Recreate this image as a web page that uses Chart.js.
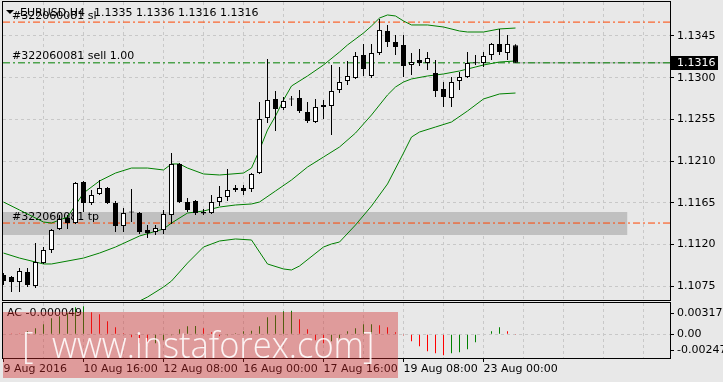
<!DOCTYPE html>
<html>
<head>
<meta charset="utf-8">
<title>EURUSD H4</title>
<script src="https://cdn.jsdelivr.net/npm/chart.js@4.4.1/dist/chart.umd.min.js"></script>
<style>
  html, body { margin: 0; padding: 0; background: #e8e8e8; }
  #wrap { position: relative; width: 723px; height: 382px; overflow: hidden; }
  canvas { position: absolute; left: 0; }
</style>
</head>
<body>
<div id="wrap">
  <canvas id="priceChart" width="723" height="301" style="top:0"></canvas>
  <canvas id="acChart" width="723" height="81" style="top:301px"></canvas>
</div>
<script>
// EURUSD H4 candles, bar 0 = 9 Aug 2016 00:00
const open = [1.10869, 1.10847, 1.10793, 1.10901, 1.10750, 1.10998, 1.11139, 1.11366, 1.11484, 1.11430,
  1.11873, 1.11646, 1.11744, 1.11808, 1.11646, 1.11398, 1.11549, 1.11538, 1.11355, 1.11333,
  1.11355, 1.11517, 1.12068, 1.11657, 1.11668, 1.11549, 1.11538, 1.11657, 1.11711, 1.11808,
  1.11808, 1.11798, 1.11970, 1.12564, 1.12770, 1.12672, 1.12770, 1.12780, 1.12629, 1.12521,
  1.12683, 1.12694, 1.12867, 1.12964, 1.12996, 1.13245, 1.13018, 1.13266, 1.13504, 1.13385,
  1.13353, 1.13137, 1.13191, 1.13158, 1.13050, 1.12878, 1.12780, 1.12964, 1.13007, 1.13158,
  1.13158, 1.13245, 1.13364, 1.13266, 1.13350];
const high = [1.10890, 1.10858, 1.10944, 1.10944, 1.11214, 1.11171, 1.11366, 1.11517, 1.11517, 1.11873,
  1.11884, 1.11787, 1.11895, 1.11819, 1.11668, 1.11592, 1.11798, 1.11549, 1.11409, 1.11409,
  1.11571, 1.12186, 1.12078, 1.11700, 1.11679, 1.11582, 1.11733, 1.11830, 1.12014, 1.11841,
  1.11841, 1.11970, 1.12737, 1.13202, 1.12856, 1.12791, 1.12802, 1.12867, 1.12737, 1.12770,
  1.12759, 1.13137, 1.13115, 1.13180, 1.13277, 1.13364, 1.13364, 1.13634, 1.13569, 1.13461,
  1.13461, 1.13266, 1.13310, 1.13277, 1.13191, 1.12953, 1.13007, 1.13061, 1.13277, 1.13245,
  1.13277, 1.13374, 1.13526, 1.13461, 1.13360];
const low = [1.10761, 1.10685, 1.10685, 1.10739, 1.10728, 1.10988, 1.11106, 1.11355, 1.11366, 1.11420,
  1.11549, 1.11625, 1.11733, 1.11636, 1.11333, 1.11333, 1.11441, 1.11312, 1.11268, 1.11301,
  1.11312, 1.11420, 1.11646, 1.11549, 1.11517, 1.11517, 1.11528, 1.11614, 1.11668, 1.11765,
  1.11733, 1.11765, 1.11960, 1.12510, 1.12424, 1.12651, 1.12694, 1.12618, 1.12510, 1.12510,
  1.12554, 1.12381, 1.12834, 1.12921, 1.12986, 1.13018, 1.12996, 1.13245, 1.13331, 1.13245,
  1.13007, 1.13029, 1.13126, 1.13083, 1.12791, 1.12683, 1.12683, 1.12867, 1.12996, 1.13137,
  1.13115, 1.13191, 1.13245, 1.13191, 1.13160];
const close = [1.10804, 1.10793, 1.10912, 1.10761, 1.11009, 1.11139, 1.11355, 1.11474, 1.11430, 1.11862,
  1.11646, 1.11733, 1.11808, 1.11646, 1.11398, 1.11538, 1.11544, 1.11333, 1.11322, 1.11376,
  1.11528, 1.12068, 1.11657, 1.11571, 1.11538, 1.11533, 1.11657, 1.11711, 1.11787, 1.11787,
  1.11776, 1.11960, 1.12554, 1.12759, 1.12662, 1.12748, 1.12764, 1.12640, 1.12532, 1.12683,
  1.12705, 1.12856, 1.12953, 1.13018, 1.13234, 1.13094, 1.13266, 1.13515, 1.13385, 1.13331,
  1.13126, 1.13169, 1.13158, 1.13212, 1.12856, 1.12791, 1.12953, 1.13007, 1.13158, 1.13155,
  1.13234, 1.13364, 1.13277, 1.13364, 1.13160];

// Bollinger bands, read at the bars where they could be made out
const upperBars = [0, 2, 5, 6, 8, 9, 10, 12, 14, 16, 18, 20, 21, 22, 23, 25, 27, 30, 31, 32,
  33, 34, 35, 36, 38, 40, 42, 43, 45, 46, 47, 48, 49, 50, 51, 53, 55, 57, 58, 60, 62, 64];
const upperBand = [1.11657, 1.11571, 1.11441, 1.11430, 1.11495, 1.11625, 1.11754, 1.11884, 1.11970, 1.12024,
  1.12024, 1.12003, 1.12068, 1.12068, 1.12024, 1.11960, 1.11949, 1.11970, 1.12024, 1.12219,
  1.12435, 1.12586, 1.12759, 1.12910, 1.13018, 1.13137, 1.13277, 1.13353, 1.13482, 1.13558,
  1.13644, 1.13677, 1.13666, 1.13612, 1.13569, 1.13569, 1.13547, 1.13504, 1.13493, 1.13493,
  1.13526, 1.13536];
const middleBars = [0, 2, 5, 6, 10, 12, 14, 17, 20, 21, 23, 25, 27, 29, 31, 32, 34, 36, 38, 40,
  42, 44, 45, 46, 47, 48, 49, 50, 51, 53, 55, 57, 59, 60, 62, 64];
const middleBand = [1.11106, 1.11052, 1.10988, 1.10988, 1.11052, 1.11106, 1.11171, 1.11290, 1.11366, 1.11430,
  1.11538, 1.11560, 1.11603, 1.11625, 1.11636, 1.11657, 1.11776, 1.11895, 1.12035, 1.12143,
  1.12251, 1.12402, 1.12500, 1.12597, 1.12705, 1.12813, 1.12899, 1.12953, 1.12986, 1.13018,
  1.13040, 1.13072, 1.13115, 1.13137, 1.13169, 1.13180];
const lowerBars = [17, 18, 20, 21, 23, 25, 27, 29, 31, 32, 33, 35, 36, 37, 40, 41, 42, 44, 46, 48,
  50, 51, 52, 54, 56, 58, 60, 62, 64];
const lowerBand = [1.10588, 1.10631, 1.10739, 1.10804, 1.10998, 1.11171, 1.11236, 1.11258, 1.11247, 1.11117,
  1.10988, 1.10934, 1.10923, 1.10966, 1.11171, 1.11204, 1.11225, 1.11409, 1.11614, 1.11852,
  1.12186, 1.12359, 1.12413, 1.12467, 1.12521, 1.12640, 1.12770, 1.12824, 1.12834];

// open order levels
const orderId = '#322060081';
const orderLots = '1.00';
const slPrice = 1.1360;
const sellPrice = 1.1316;
const tpPrice = 1.1143;
const tpZone = [1.11301, 1.11549];
const tpZoneEnd = 78;

// Accelerator oscillator
const acValues = [0.00008, 0.00005, 0.00003, 0.00045, 0.00091, 0.00151, 0.00242, 0.00272, 0.00318, 0.00409,
  0.00424, 0.00333, 0.00303, 0.00197, 0.00106, 0.00015, -0.00045, -0.00136, -0.00151, -0.00136,
  -0.00091, -0.00015, 0.00076, 0.00121, 0.00126, 0.00091, 0.00030, -0.00030, -0.00015, 0.00015,
  0.00045, 0.00053, 0.00121, 0.00257, 0.00287, 0.00348, 0.00356, 0.00227, 0.00076, -0.00091,
  -0.00136, -0.00106, -0.00061, 0.00045, 0.00091, 0.00151, 0.00154, 0.00136, 0.00106, 0.00030,
  -0.00015, -0.00106, -0.00182, -0.00257, -0.00287, -0.00318, -0.00287, -0.00272, -0.00227, -0.00121,
  0.00008, 0.00045, 0.00106, 0.00045, -0.000049];

// axes
const priceTicks = [1.1075, 1.1120, 1.1165, 1.1210, 1.1255, 1.1300, 1.1345];
const acTicks = [0.003177, 0, -0.00247];
const acTickLabels = ['0.003177', '0.00', '-0.00247'];
const gridBars = [0, 5, 10, 15, 20, 25, 30, 35, 40, 45, 50, 55, 60, 65, 70, 75, 80];
const labelBars = [0, 10, 20, 30, 40, 50, 60];
const timeLabels = ['9 Aug 2016', '10 Aug 16:00', '12 Aug 08:00', '16 Aug 00:00', '17 Aug 16:00', '19 Aug 08:00', '23 Aug 00:00'];

const xMin = -0.0625, xMax = 83.3125;
const priceMin = 1.10599, priceMax = 1.13817;
const acMin = -0.00359, acMax = 0.00474;

const FONT = "11px 'DejaVu Sans'";
const gridColor = '#c8c8c8';
const bars = open.map((_, i) => i);
const last = open.length - 1;

Chart.defaults.font.family = "'DejaVu Sans', sans-serif";
Chart.defaults.font.size = 11;
Chart.defaults.color = '#000';

function levelLine(price, color, from, dash) {
    return {
        type: 'line',
        data: [{ x: from, y: price }, { x: xMax, y: price }],
        borderColor: color, borderWidth: 1, borderDash: dash,
        pointRadius: 0, order: 5
    };
}

function bandLine(xs, values) {
    return {
        type: 'line',
        data: xs.map((b, k) => ({ x: b, y: values[k] })),
        borderColor: '#008000', borderWidth: 1,
        pointRadius: 0, tension: 0, order: 3
    };
}

const gridLine = (c) => (c.tick && c.tick.value === 0 ? 'transparent' : gridColor);

// right-hand axes: fixed width, no extra room for the end labels
function fitRightAxis(s) {
    s.width = 53;
    s.paddingTop = 0;
    s.paddingBottom = 0;
}

// text, frame and last price box on the price panel
const priceDecor = {
    id: 'priceDecor',
    afterDatasetDraw(chart, args) {
        if (args.index !== 1) return; // right after the tp zone, under the candles
        const { ctx, scales: { y } } = chart;
        ctx.save();
        ctx.font = FONT;
        ctx.fillStyle = '#000';
        ctx.textBaseline = 'middle';
        ctx.fillText(orderId + ' sl', 12, y.getPixelForValue(slPrice) - 6);
        ctx.fillText(orderId + ' sell ' + orderLots, 12, y.getPixelForValue(sellPrice) - 7);
        ctx.fillText(orderId + ' tp', 12, y.getPixelForValue(tpPrice) - 6);
        ctx.restore();
    },
    afterDraw(chart) {
        const { ctx, chartArea: a, scales: { y } } = chart;
        ctx.save();
        ctx.font = FONT;
        ctx.fillStyle = '#000';
        ctx.textBaseline = 'middle';
        // title
        ctx.beginPath();
        ctx.moveTo(6, 10); ctx.lineTo(14, 10); ctx.lineTo(10, 14); ctx.closePath();
        ctx.fill();
        ctx.fillText('EURUSD,H4', 20, 13);
        const ohlc = [open[last], high[last], low[last], close[last]].map(v => v.toFixed(4)).join(' ');
        ctx.fillText(ohlc, 94, 13);
        // frame
        ctx.strokeStyle = '#000';
        ctx.lineWidth = 1;
        ctx.strokeRect(a.left - 0.5, a.top - 0.5, a.right - a.left + 1, a.bottom - a.top + 1);
        // last price box
        const py = Math.round(y.getPixelForValue(close[last]));
        ctx.fillRect(a.right + 1, py - 7, 47, 14);
        ctx.fillStyle = '#fff';
        ctx.fillText(close[last].toFixed(4), a.right + 7, py);
        ctx.restore();
    }
};

new Chart(document.getElementById('priceChart'), {
    type: 'bar',
    data: {
        datasets: [
            {
                type: 'line', data: [{ x: xMin, y: tpZone[1] }, { x: tpZoneEnd, y: tpZone[1] }],
                borderColor: 'transparent', pointRadius: 0, order: 11
            },
            {
                type: 'line', data: [{ x: xMin, y: tpZone[0] }, { x: tpZoneEnd, y: tpZone[0] }],
                borderColor: 'transparent', pointRadius: 0, fill: '-1', backgroundColor: '#c0c0c0', order: 10
            },
            levelLine(tpPrice, '#ff4500', xMin, [7, 3, 2, 3]),
            levelLine(slPrice, '#ff4500', xMin, [7, 3, 2, 3]),
            Object.assign(levelLine(close[last], '#a8a8a8', last, []), { order: 6 }),
            levelLine(sellPrice, '#008000', xMin, [7, 3, 2, 3]),
            bandLine(upperBars, upperBand),
            bandLine(middleBars, middleBand),
            bandLine(lowerBars, lowerBand),
            {
                // wicks
                data: bars.map(i => ({ x: i, y: [low[i], high[i]] })),
                backgroundColor: '#000',
                barThickness: 1, maxBarThickness: 1, inflateAmount: 0,
                grouped: false, order: 2
            },
            {
                // bodies
                data: bars.map(i => ({ x: i, y: [open[i], close[i]] })),
                backgroundColor: bars.map(i => (close[i] > open[i] ? '#ffffff' : '#000000')),
                borderColor: '#000', borderWidth: 1, borderSkipped: false,
                barThickness: 5, maxBarThickness: 5, inflateAmount: 0, minBarLength: 1,
                grouped: false, order: 1
            }
        ]
    },
    options: {
        responsive: false,
        animation: false,
        events: [],
        layout: { padding: { left: 3, top: 2, right: 0, bottom: 1 } },
        plugins: { legend: { display: false }, tooltip: { enabled: false } },
        scales: {
            x: {
                type: 'linear', min: xMin, max: xMax, offset: false,
                afterBuildTicks: (s) => { s.ticks = gridBars.map(v => ({ value: v })); },
                afterFit: (s) => { s.height = 0; s.paddingLeft = 0; s.paddingRight = 0; },
                ticks: { display: false },
                grid: { color: gridLine, drawTicks: false, offset: false },
                border: { display: false, dash: [3, 3] }
            },
            y: {
                position: 'right', min: priceMin, max: priceMax,
                afterBuildTicks: (s) => { s.ticks = priceTicks.map(v => ({ value: v })); },
                afterFit: fitRightAxis,
                ticks: { callback: (v) => v.toFixed(4), padding: 3, color: '#000' },
                grid: { color: gridColor, tickColor: '#000', tickLength: 4 },
                border: { display: false, dash: [3, 3] }
            }
        }
    },
    plugins: [priceDecor]
});

// label, frame and watermark on the oscillator panel
const acDecor = {
    id: 'acDecor',
    afterDraw(chart) {
        const { ctx, chartArea: a } = chart;
        ctx.save();
        ctx.font = FONT;
        ctx.fillStyle = '#000';
        ctx.textBaseline = 'middle';
        ctx.fillText('AC ' + acValues[last].toFixed(6), 7, 12);
        ctx.strokeStyle = '#000';
        ctx.lineWidth = 1;
        ctx.strokeRect(a.left - 0.5, a.top - 0.5, a.right - a.left + 1, a.bottom - a.top + 1);

        // watermark
        ctx.fillStyle = 'rgba(210, 40, 40, 0.4)';
        ctx.fillRect(3, 11, 395, 66);
        ctx.fillStyle = 'rgba(255, 255, 255, 0.88)';
        ctx.textBaseline = 'alphabetic';
        ctx.font = "300 36px 'Open Sans'";
        const text = 'www.instaforex.com';
        const w = ctx.measureText(text).width;
        ctx.save();
        ctx.translate(52, 57);
        ctx.scale(312 / w, 1);
        ctx.fillText(text, 0, 0);
        ctx.restore();
        ctx.font = "300 36px 'Open Sans'";
        ctx.fillText('[', 22, 57);
        ctx.fillText(']', 363, 57);
        ctx.restore();
    }
};

new Chart(document.getElementById('acChart'), {
    type: 'bar',
    data: {
        datasets: [{
            data: bars.map(i => ({ x: i, y: acValues[i] })),
            backgroundColor: acValues.map((v, i) => (i > 0 && v > acValues[i - 1] ? '#008000' : '#ff0000')),
            barThickness: 1, maxBarThickness: 1, inflateAmount: 0, grouped: false
        }]
    },
    options: {
        responsive: false,
        animation: false,
        events: [],
        layout: { padding: { left: 3, top: 2, right: 0, bottom: 0 } },
        plugins: { legend: { display: false }, tooltip: { enabled: false } },
        scales: {
            x: {
                type: 'linear', min: xMin, max: xMax, offset: false,
                afterBuildTicks: (s) => { s.ticks = gridBars.map(v => ({ value: v })); },
                afterFit: (s) => { s.height = 24; s.paddingLeft = 0; s.paddingRight = 0; },
                ticks: {
                    autoSkip: false, maxRotation: 0, align: 'start', padding: 1, color: '#000',
                    callback: (v) => { const k = labelBars.indexOf(v); return k < 0 ? '' : timeLabels[k]; }
                },
                grid: {
                    color: gridLine, offset: false, tickLength: 4,
                    tickColor: (c) => (labelBars.includes(c.tick.value) ? '#000' : 'transparent')
                },
                border: { display: false, dash: [3, 3] }
            },
            y: {
                position: 'right', min: acMin, max: acMax,
                afterBuildTicks: (s) => { s.ticks = acTicks.map(v => ({ value: v })); },
                afterFit: fitRightAxis,
                ticks: { padding: 3, color: '#000', callback: (v, i) => acTickLabels[i] },
                grid: {
                    color: (c) => (c.tick && c.tick.value === 0 ? gridColor : 'transparent'),
                    tickColor: '#000', tickLength: 4
                },
                border: { display: false, dash: [3, 3] }
            }
        }
    },
    plugins: [acDecor]
});
</script>
</body>
</html>
